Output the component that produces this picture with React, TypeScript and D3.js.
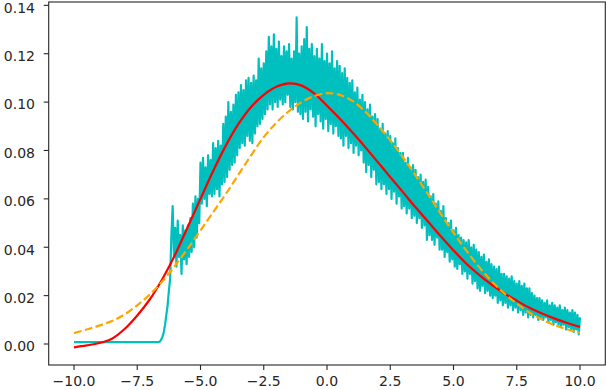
import React from "react";
import * as d3 from "d3";

// ---- data ----
const xTicks = [-10, -7.5, -5, -2.5, 0, 2.5, 5, 7.5, 10];
const xTickLabels = ["−10.0", "−7.5", "−5.0", "−2.5", "0.0", "2.5", "5.0", "7.5", "10.0"];
const yTicks = [0, 0.02, 0.04, 0.06, 0.08, 0.1, 0.12, 0.14];
const yTickLabels = ["0.00", "0.02", "0.04", "0.06", "0.08", "0.10", "0.12", "0.14"];

// smooth fitted curves, sampled every 0.5 from -10 to 10
const curveX = [
  -10, -9.5, -9, -8.5, -8, -7.5, -7, -6.5, -6, -5.5, -5, -4.5, -4, -3.5, -3, -2.5, -2, -1.5, -1, -0.5, 0,
  0.5, 1, 1.5, 2, 2.5, 3, 3.5, 4, 4.5, 5, 5.5, 6, 6.5, 7, 7.5, 8, 8.5, 9, 9.5, 10,
];
const redValues = [
  -0.0014, -0.0006, 0.0004, 0.0022, 0.0062, 0.0118, 0.0185, 0.027, 0.037, 0.0485, 0.06, 0.0715, 0.082,
  0.091, 0.098, 0.103, 0.1063, 0.1077, 0.1068, 0.1035, 0.0985, 0.0932, 0.0875, 0.0815, 0.0753, 0.069,
  0.0628, 0.0565, 0.0505, 0.0445, 0.0387, 0.0333, 0.0287, 0.0246, 0.021, 0.0179, 0.015, 0.0126, 0.0105,
  0.0087, 0.0071,
];
const orangeValues = [
  0.0045, 0.006, 0.0076, 0.0095, 0.0122, 0.016, 0.0205, 0.026, 0.0325, 0.0395, 0.047, 0.0545, 0.062,
  0.07, 0.078, 0.0855, 0.0915, 0.0963, 0.1, 0.1025, 0.1037, 0.103, 0.1005, 0.0962, 0.0905, 0.0842,
  0.0772, 0.0697, 0.0618, 0.0538, 0.046, 0.0387, 0.032, 0.026, 0.021, 0.0167, 0.013, 0.0101, 0.0078,
  0.006, 0.0046,
];

// noisy empirical series: flat part, then samples every 0.05 from -6.6 to 10.0
const cyanFlatX = [-10, -6.65];
const cyanFlatValues = [0.0008, 0.0008];
const cyanStart = -6.6;
const cyanStep = 0.05;
const cyanValues = [
  0.001, 0.002, 0.003, 0.005, 0.008, 0.012, 0.016, 0.022, 0.027, 0.045, 0.057, 0.036,
  0.048, 0.032, 0.051, 0.036, 0.045, 0.029, 0.049, 0.035, 0.047, 0.033,
  0.049, 0.036, 0.052, 0.038, 0.058, 0.04, 0.061, 0.044, 0.06, 0.05,
  0.075, 0.058, 0.077, 0.06, 0.073, 0.057, 0.078, 0.062, 0.076, 0.061,
  0.083, 0.062, 0.081, 0.064, 0.084, 0.061, 0.082, 0.066, 0.091, 0.067,
  0.094, 0.069, 0.1, 0.072, 0.096, 0.074, 0.099, 0.075, 0.103, 0.078,
  0.104, 0.081, 0.107, 0.083, 0.105, 0.082, 0.109, 0.086, 0.11, 0.084,
  0.108, 0.083, 0.111, 0.087, 0.109, 0.09, 0.118, 0.091, 0.114, 0.093,
  0.116, 0.095, 0.121, 0.097, 0.127, 0.099, 0.123, 0.097, 0.128, 0.1,
  0.122, 0.098, 0.125, 0.101, 0.119, 0.099, 0.123, 0.1, 0.121, 0.103,
  0.124, 0.098, 0.118, 0.097, 0.121, 0.1, 0.135, 0.096, 0.12, 0.095,
  0.123, 0.093, 0.126, 0.096, 0.131, 0.092, 0.122, 0.097, 0.124, 0.094,
  0.119, 0.09, 0.122, 0.095, 0.118, 0.092, 0.124, 0.089, 0.117, 0.093,
  0.12, 0.088, 0.116, 0.091, 0.121, 0.087, 0.114, 0.09, 0.117, 0.086,
  0.115, 0.085, 0.112, 0.082, 0.114, 0.086, 0.11, 0.081, 0.108, 0.083,
  0.109, 0.079, 0.104, 0.082, 0.106, 0.078, 0.101, 0.08, 0.103, 0.075,
  0.1, 0.071, 0.097, 0.074, 0.099, 0.069, 0.094, 0.072, 0.095, 0.066,
  0.093, 0.067, 0.089, 0.064, 0.091, 0.066, 0.087, 0.062, 0.088, 0.064,
  0.086, 0.06, 0.083, 0.063, 0.085, 0.058, 0.081, 0.061, 0.079, 0.056,
  0.079, 0.057, 0.075, 0.054, 0.077, 0.056, 0.073, 0.052, 0.074, 0.053,
  0.072, 0.05, 0.069, 0.052, 0.07, 0.048, 0.067, 0.049, 0.068, 0.043,
  0.065, 0.045, 0.061, 0.043, 0.062, 0.041, 0.058, 0.044, 0.059, 0.039,
  0.055, 0.039, 0.057, 0.036, 0.052, 0.038, 0.05, 0.034, 0.051, 0.035,
  0.047, 0.032, 0.048, 0.031, 0.045, 0.033, 0.044, 0.029, 0.043, 0.03,
  0.042, 0.027, 0.043, 0.029, 0.04, 0.025, 0.041, 0.026, 0.039, 0.023,
  0.038, 0.022, 0.036, 0.024, 0.037, 0.021, 0.034, 0.022, 0.035, 0.02,
  0.033, 0.019, 0.032, 0.02, 0.031, 0.017, 0.032, 0.018, 0.029, 0.016,
  0.029, 0.017, 0.028, 0.015, 0.027, 0.016, 0.028, 0.014, 0.026, 0.015,
  0.025, 0.013, 0.026, 0.014, 0.024, 0.012, 0.025, 0.013, 0.023, 0.011,
  0.023, 0.012, 0.021, 0.011, 0.02, 0.012, 0.019, 0.01, 0.019, 0.011,
  0.018, 0.01, 0.017, 0.011, 0.018, 0.009, 0.016, 0.01, 0.017, 0.008,
  0.016, 0.009, 0.015, 0.008, 0.016, 0.007, 0.014, 0.008, 0.015, 0.006,
  0.014, 0.007, 0.013, 0.006, 0.014, 0.005, 0.013, 0.006, 0.012, 0.004, 0.011,
];

const W = 606;
const H = 390;
const plot = { left: 48.7, right: 605.3, top: 2, bottom: 365 };

export default function App() {
  React.useEffect(() => {
    document.body.style.margin = "0";
  }, []);

  const x = d3.scaleLinear().domain([-11, 11]).range([plot.left, plot.right]);
  const y = d3.scaleLinear().domain([-0.00868, 0.14138]).range([plot.bottom, plot.top]);

  const cyanPts: [number, number][] = [
    ...cyanFlatX.map((v, i) => [v, cyanFlatValues[i]] as [number, number]),
    ...cyanValues.map((v, i) => [cyanStart + i * cyanStep, v] as [number, number]),
  ];
  const lineStraight = d3
    .line<[number, number]>()
    .x((d) => x(d[0]))
    .y((d) => y(d[1]));
  const lineSmooth = d3
    .line<[number, number]>()
    .x((d) => x(d[0]))
    .y((d) => y(d[1]))
    .curve(d3.curveCatmullRom);

  const redPts = curveX.map((v, i) => [v, redValues[i]] as [number, number]);
  const orangePts = curveX.map((v, i) => [v, orangeValues[i]] as [number, number]);

  const font = "'DejaVu Sans', sans-serif";
  const textColor = "#262626";

  return (
    <svg
      width={W}
      height={H}
      style={{ position: "absolute", left: 0, top: 0, background: "#fff" }}
      xmlns="http://www.w3.org/2000/svg"
    >
      <rect x={0} y={0} width={W} height={H} fill="#fff" />
      <defs>
        <clipPath id="plotclip">
          <rect x={plot.left} y={plot.top} width={plot.right - plot.left} height={plot.bottom - plot.top} />
        </clipPath>
      </defs>
      <g clipPath="url(#plotclip)">
        <path d={lineStraight(cyanPts) || ""} fill="none" stroke="#00bfbf" strokeWidth={2.2} strokeLinejoin="round" />
        <path d={lineSmooth(redPts) || ""} fill="none" stroke="#ff0000" strokeWidth={2.2} />
        <path
          d={lineSmooth(orangePts) || ""}
          fill="none"
          stroke="#ffa500"
          strokeWidth={2.2}
          strokeDasharray="7.8,3.4"
        />
      </g>
      {/* spines */}
      <rect
        x={plot.left}
        y={plot.top}
        width={plot.right - plot.left}
        height={plot.bottom - plot.top}
        fill="none"
        stroke={textColor}
        strokeWidth={1.1}
      />
      {/* x ticks */}
      {xTicks.map((t, i) => (
        <g key={"x" + i}>
          <line x1={x(t)} x2={x(t)} y1={plot.bottom} y2={plot.bottom + 5} stroke={textColor} strokeWidth={1.1} />
          <text x={x(t)} y={386} textAnchor="middle" fontFamily={font} fontSize={14} fill={textColor}>
            {xTickLabels[i]}
          </text>
        </g>
      ))}
      {/* y ticks */}
      {yTicks.map((t, i) => (
        <g key={"y" + i}>
          <line x1={plot.left - 5} x2={plot.left} y1={y(t)} y2={y(t)} stroke={textColor} strokeWidth={1.1} />
          <text x={35} y={y(t) + 7.3} textAnchor="end" fontFamily={font} fontSize={14} fill={textColor}>
            {yTickLabels[i]}
          </text>
        </g>
      ))}
    </svg>
  );
}
